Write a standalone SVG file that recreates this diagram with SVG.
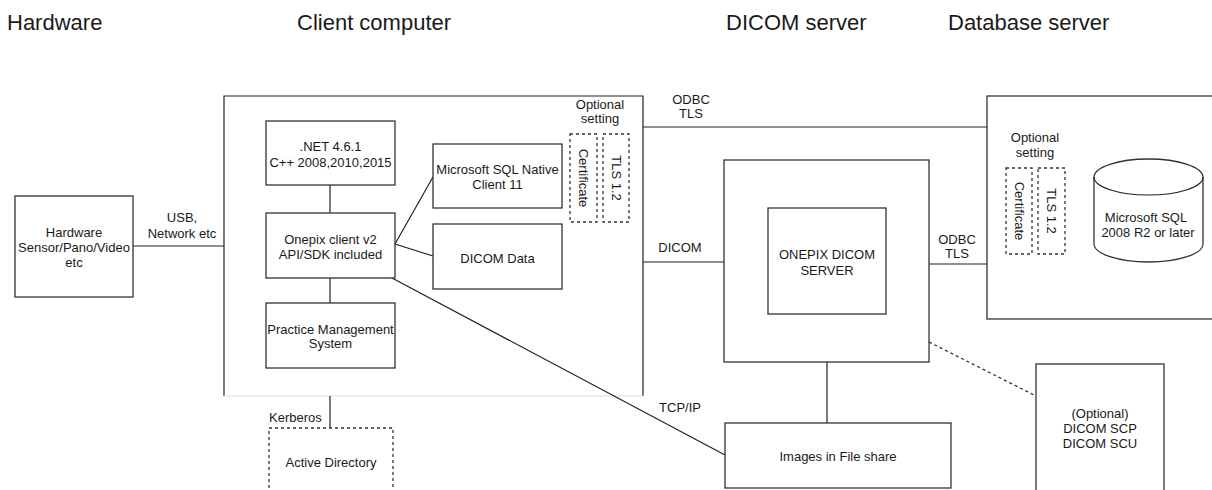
<svg xmlns="http://www.w3.org/2000/svg" width="1212" height="490" viewBox="0 0 1212 490">
<style>
text{font-family:"Liberation Sans",Arial,sans-serif;font-size:13px;fill:#1a1a1a;dominant-baseline:central}
.h{font-size:22px;dominant-baseline:alphabetic}
.c{text-anchor:middle}
.b{fill:#fff;stroke:#333;stroke-width:1.3}
.d{fill:none;stroke:#333;stroke-width:1.3;stroke-dasharray:3 3}
.l{fill:none;stroke:#222;stroke-width:1.2}
.ld{fill:none;stroke:#222;stroke-width:1.2;stroke-dasharray:3 3}
</style>
<rect width="1212" height="490" fill="#fff"/>
<g id="headers">
<text class="h" x="7" y="30">Hardware</text>
<text class="h" x="297" y="30">Client computer</text>
<text class="h" x="726" y="30">DICOM server</text>
<text class="h" x="948" y="30">Database server</text>
</g>
<g id="client-computer">
<path class="l" d="M224 396V96H643V396"/>
<path d="M224 396H643" stroke="#ddd" stroke-width="1.2"/>
</g>
<g id="database-server">
<rect class="b" x="987" y="96" width="240" height="223"/>
</g>
<g id="connectors">
<path class="l" d="M133 246H224"/>
<path class="l" d="M643 127H987"/>
<path class="l" d="M643 262H724"/>
<path class="l" d="M929 264H987"/>
<path class="l" d="M330 185V213"/>
<path class="l" d="M330 278V303"/>
<path class="l" d="M395 244L433 177"/>
<path class="l" d="M395 244L433 256"/>
<path class="l" d="M392 278L725 455"/>
<path class="l" d="M330 396V428"/>
<path class="l" d="M827 362V423"/>
<path class="ld" d="M929 342L1036 396"/>
<text class="c" x="182" y="217">USB,</text>
<text class="c" x="182" y="233">Network etc</text>
<text class="c" x="691" y="99">ODBC</text>
<text class="c" x="691" y="113">TLS</text>
<text class="c" x="680" y="247">DICOM</text>
<text class="c" x="957" y="239">ODBC</text>
<text class="c" x="957" y="253">TLS</text>
<text class="c" x="680" y="407">TCP/IP</text>
<text x="269" y="417">Kerberos</text>
</g>
<g id="hardware">
<rect class="b" x="15" y="196" width="118" height="101"/>
<text class="c" x="74" y="232">Hardware</text>
<text class="c" x="74" y="247">Sensor/Pano/Video</text>
<text class="c" x="74" y="262">etc</text>
</g>
<g id="dotnet">
<rect class="b" x="266" y="121" width="129" height="64"/>
<text class="c" x="330.5" y="146">.NET 4.6.1</text>
<text class="c" x="330.5" y="162">C++ 2008,2010,2015</text>
</g>
<g id="onepix-client">
<rect class="b" x="266" y="213" width="129" height="65"/>
<text class="c" x="330.5" y="239">Onepix client v2</text>
<text class="c" x="330.5" y="254">API/SDK included</text>
</g>
<g id="practice-management">
<rect class="b" x="266" y="303" width="129" height="65"/>
<text class="c" x="330.5" y="329">Practice Management</text>
<text class="c" x="330.5" y="343">System</text>
</g>
<g id="sql-native-client">
<rect class="b" x="433" y="144" width="129" height="64"/>
<text class="c" x="497.5" y="169">Microsoft SQL Native</text>
<text class="c" x="497.5" y="184">Client 11</text>
</g>
<g id="dicom-data">
<rect class="b" x="433" y="224" width="129" height="65"/>
<text class="c" x="497.5" y="258">DICOM Data</text>
</g>
<g id="client-optional">
<text class="c" x="600" y="104">Optional</text>
<text class="c" x="600" y="118">setting</text>
<rect class="d" x="570" y="134" width="27" height="88"/>
<text class="c" transform="translate(583.5 178) rotate(90)">Certificate</text>
<rect class="d" x="603" y="134" width="26" height="88"/>
<text class="c" transform="translate(616 178) rotate(90)">TLS 1.2</text>
</g>
<g id="dicom-server">
<rect class="b" x="724" y="160" width="205" height="202"/>
</g>
<g id="onepix-dicom-server">
<rect class="b" x="768" y="208" width="118" height="106"/>
<text class="c" x="827" y="254">ONEPIX DICOM</text>
<text class="c" x="827" y="270">SERVER</text>
</g>
<g id="db-optional">
<text class="c" x="1035" y="137">Optional</text>
<text class="c" x="1035" y="152">setting</text>
<rect class="d" x="1006" y="168" width="26" height="86"/>
<text class="c" transform="translate(1019 211) rotate(90)">Certificate</text>
<rect class="d" x="1038" y="168" width="27" height="86"/>
<text class="c" transform="translate(1051.5 211) rotate(90)">TLS 1.2</text>
</g>
<g id="ms-sql">
<path class="b" d="M1094 177V244A54.5 18 0 0 0 1203 244V177A54.5 18 0 0 0 1094 177Z"/>
<path class="l" d="M1094 177A54.5 18 0 0 0 1203 177"/>
<text class="c" x="1146" y="217">Microsoft SQL</text>
<text class="c" x="1148" y="232">2008 R2 or later</text>
</g>
<g id="file-share">
<rect class="b" x="725" y="423" width="226" height="65"/>
<text class="c" x="838" y="456">Images in File share</text>
</g>
<g id="dicom-scp-scu">
<rect class="b" x="1036" y="364" width="128" height="140"/>
<text class="c" x="1100" y="413">(Optional)</text>
<text class="c" x="1100" y="428">DICOM SCP</text>
<text class="c" x="1100" y="443">DICOM SCU</text>
</g>
<g id="active-directory">
<rect class="d" x="269" y="428" width="124" height="80"/>
<text class="c" x="331" y="462">Active Directory</text>
</g>
</svg>
